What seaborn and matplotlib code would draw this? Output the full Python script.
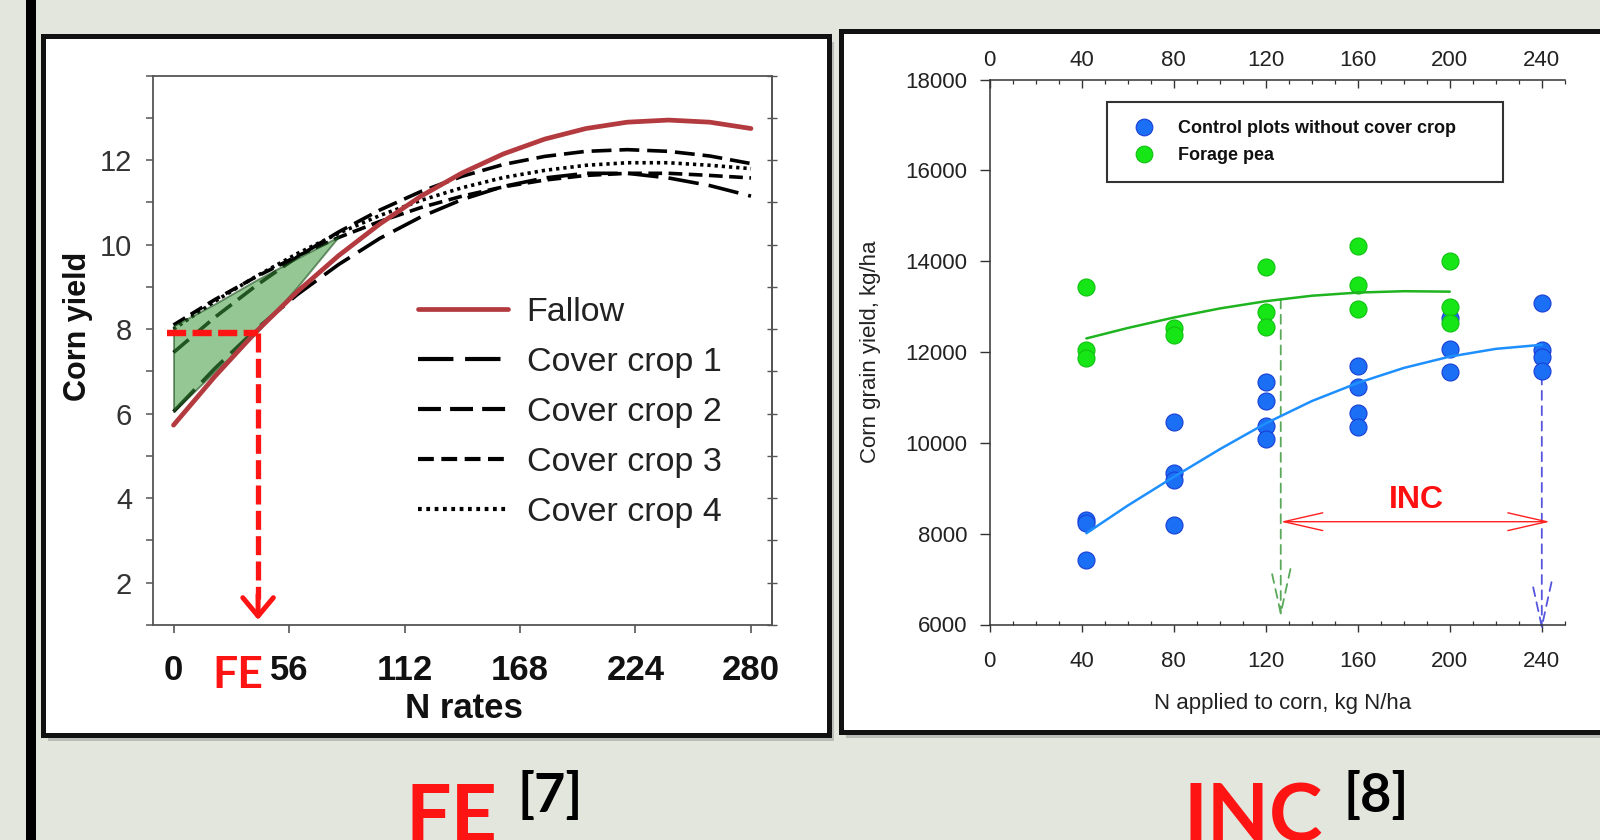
import numpy as np
import pandas as pd
import matplotlib
matplotlib.use("Agg")
import matplotlib.pyplot as plt
import seaborn as sns
from matplotlib.patches import Rectangle
from matplotlib.lines import Line2D
from matplotlib.ticker import MultipleLocator

# ---------------- data: left panel (FE) ----------------
n_rates = [0, 20, 40, 60, 80, 100, 120, 140, 160, 180, 200, 220, 240, 260, 280]
fallow = [5.73, 6.88, 7.94, 8.89, 9.74, 10.49, 11.15, 11.70, 12.15, 12.50, 12.75, 12.90, 12.95, 12.90, 12.75]
cover_crop_1 = [6.05, 7.07, 8.00, 8.82, 9.53, 10.15, 10.66, 11.07, 11.38, 11.58, 11.69, 11.69, 11.58, 11.40, 11.15]
cover_crop_2 = [7.45, 8.28, 9.03, 9.71, 10.30, 10.82, 11.26, 11.62, 11.90, 12.09, 12.21, 12.25, 12.21, 12.10, 11.92]
cover_crop_3 = [8.10, 8.70, 9.24, 9.73, 10.17, 10.55, 10.88, 11.15, 11.37, 11.53, 11.64, 11.69, 11.69, 11.64, 11.58]
cover_crop_4 = [8.00, 8.66, 9.25, 9.79, 10.27, 10.69, 11.05, 11.35, 11.59, 11.76, 11.88, 11.94, 11.94, 11.88, 11.80]
fe_fill_n = [0, 20, 40, 60, 80]
fe_fill_upper = [8.08, 8.60, 9.16, 9.68, 10.19]
fe_fill_lower = [6.05, 7.00, 7.90, 9.00, 10.19]
fe_n = 41
fe_yield = 7.9
fe_line_start = -3
fe_arrow_tip = 1.12
left_xticks = [0, 56, 112, 168, 224, 280]
left_yticks = [2, 4, 6, 8, 10, 12]
left_series = ["Fallow", "Cover crop 1", "Cover crop 2", "Cover crop 3", "Cover crop 4"]

# ---------------- data: right panel (INC) ----------------
control_n = [42, 42, 42, 80, 80, 80, 80, 120, 120, 120, 120, 160, 160, 160, 160, 200, 200, 200, 240, 240, 240, 240]
control_yield = [8300, 8230, 7420, 10450, 9330, 9180, 8190, 11340, 10930, 10380, 10080,
                 11690, 11240, 10650, 10340, 12740, 12060, 11550, 13080, 12050, 11900, 11590]
pea_n = [42, 42, 42, 80, 80, 120, 120, 120, 160, 160, 160, 200, 200, 200]
pea_yield = [13440, 12050, 11860, 12520, 12380, 13870, 12890, 12550, 14340, 13480, 12940, 14010, 12990, 12650]
control_fit_n = [42, 60, 80, 100, 120, 140, 160, 180, 200, 220, 240]
control_fit = [8010, 8620, 9250, 9860, 10430, 10920, 11320, 11650, 11900, 12070, 12160]
pea_fit_n = [42, 60, 80, 100, 120, 140, 160, 180, 200]
pea_fit = [12300, 12530, 12760, 12960, 13120, 13240, 13310, 13340, 13330]
inc_start = 126.5
inc_end = 243.5
inc_y = 8264
pea_opt_yield = 13160
control_opt_n = 240
control_opt_yield = 12160
green_tip = 6150
blue_tip = 5860
inc_label_pos = (185.6, 8742)
right_xticks = [0, 40, 80, 120, 160, 200, 240]
right_yticks = [6000, 8000, 10000, 12000, 14000, 16000, 18000]
right_series = ["Control plots without cover crop", "Forage pea"]

# ---------------- styling ----------------
sns.set_style("white")
plt.rcParams["font.family"] = ["Liberation Sans", "DejaVu Sans"]
NARROW = ["Liberation Sans Narrow", "Liberation Sans", "DejaVu Sans"]
BG = "#e3e6dd"
RED = "#ff1414"
FALLOW_RED = "#b33a3e"

W, H = 1600, 840
fig = plt.figure(figsize=(16, 8.4), dpi=100)
fig.patch.set_facecolor(BG)


def fx(px):
    return px / W


def fy(py):
    return 1 - py / H


# slide decorations: black side bar and framed white panels with shadow
fig.add_artist(Rectangle((fx(25.5), 0), 10.2 / W, 1, transform=fig.transFigure,
                         facecolor="black", edgecolor="none", zorder=-5))
for (x0, y0, x1, y1) in [(43, 36, 829, 735), (841, 31, 1660, 732)]:
    fig.add_artist(Rectangle((fx(x0 + 5), fy(y1 + 6)), (x1 - x0) / W, (y1 - y0) / H,
                             transform=fig.transFigure, facecolor="#8a8a8a", edgecolor="none",
                             alpha=0.45, zorder=-4))
    fig.add_artist(Rectangle((fx(x0), fy(y1)), (x1 - x0) / W, (y1 - y0) / H,
                             transform=fig.transFigure, facecolor="white", edgecolor="#111111",
                             linewidth=3.6, zorder=-3))

# ================= left panel =================
axL = fig.add_axes([fx(152.9), fy(625.0), 618.7 / W, 549.3 / H])
axL.set_facecolor("white")
dfL = pd.DataFrame({"n": n_rates, "Fallow": fallow, "Cover crop 1": cover_crop_1,
                    "Cover crop 2": cover_crop_2, "Cover crop 3": cover_crop_3,
                    "Cover crop 4": cover_crop_4})
styles = {
    "Cover crop 1": (0, (8.5, 2.8)),
    "Cover crop 2": (0, (5.5, 2.2)),
    "Cover crop 3": (0, (3.8, 1.8)),
    "Cover crop 4": (0, (0.9, 1.1)),
}
for name in ["Cover crop 1", "Cover crop 2", "Cover crop 3", "Cover crop 4"]:
    sns.lineplot(data=dfL, x="n", y=name, ax=axL, color="black", linewidth=2.6,
                 linestyle=styles[name], label=name, zorder=2)
axL.fill_between(fe_fill_n, fe_fill_lower, fe_fill_upper, facecolor="#3c9a3c",
                 edgecolor="#144414", linewidth=1.4, alpha=0.55, zorder=2.5)
sns.lineplot(data=dfL, x="n", y="Fallow", ax=axL, color=FALLOW_RED, linewidth=3.4,
             label="Fallow", zorder=3)

# FE marker lines
axL.plot([fe_line_start, fe_n], [fe_yield, fe_yield], color=RED, linewidth=4.6,
         linestyle=(0, (3.0, 1.0)), zorder=4, solid_capstyle="butt")
axL.plot([fe_n, fe_n], [fe_yield, fe_arrow_tip + 0.5], color=RED, linewidth=3.8,
         linestyle=(0, (3.6, 1.2)), zorder=4)
axL.annotate("", xy=(fe_n, fe_arrow_tip), xytext=(fe_n, fe_arrow_tip + 0.6),
             arrowprops=dict(arrowstyle="->,head_length=0.6,head_width=0.5", color=RED,
                             lw=3.6, shrinkA=0, shrinkB=0, mutation_scale=22),
             zorder=4, annotation_clip=False)

axL.set_xlim(-10, 290)
axL.set_ylim(1, 14)
axL.set_xticks(left_xticks)
axL.set_yticks(left_yticks)
axL.yaxis.set_minor_locator(MultipleLocator(1))
for s in axL.spines.values():
    s.set_color("#555555")
    s.set_linewidth(1.3)
axL.tick_params(axis="y", which="both", direction="out", left=True, length=5, width=1.1,
                color="#555555", pad=10)
axL.tick_params(axis="x", which="major", direction="out", bottom=True, length=6, width=1.2,
                color="#555555", pad=15)
for lab in axL.get_xticklabels():
    lab.set_fontfamily(NARROW)
    lab.set_fontsize(25)
    lab.set_fontweight("bold")
    lab.set_color("#111111")
for lab in axL.get_yticklabels():
    lab.set_fontfamily(NARROW)
    lab.set_fontsize(21)
    lab.set_color("#333333")
secR = axL.secondary_yaxis("right")
secR.set_yticks(list(range(1, 15)))
secR.tick_params(direction="inout", length=7, width=1.0, color="#555555", labelright=False)
secR.spines["right"].set_color("#555555")
secR.spines["right"].set_linewidth(1.3)

axL.set_xlabel("N rates", fontsize=25, fontweight="bold", family=NARROW, color="#111111")
axL.set_ylabel("Corn yield", fontsize=22, fontweight="bold", color="#111111")
axL.xaxis.set_label_coords(0.503, -0.122)
axL.yaxis.set_label_coords(-0.097, 0.5435)

handles, labels = axL.get_legend_handles_labels()
order = [labels.index(n) for n in left_series]
legL = axL.legend([handles[i] for i in order], [labels[i] for i in order],
                  loc="upper left", bbox_to_anchor=(0.428, 0.598), frameon=False,
                  prop={"family": NARROW, "size": 24.5}, handlelength=2.65,
                  labelspacing=0.56, handletextpad=0.55, borderpad=0, borderaxespad=0)
for t in legL.get_texts():
    t.set_color("#222222")
for ln in legL.get_lines():
    ln.set_linewidth(3.4 if ln.get_color() == FALLOW_RED else 3.0)

fig.text(fx(238), fy(675), "FE", color=RED, fontsize=32, fontweight="bold",
         family=["Lato", "DejaVu Sans"], ha="center", va="center")

# ================= right panel =================
axR = fig.add_axes([fx(989.8), fy(624.5), 575.0 / W, 544.9 / H])
axR.set_facecolor("white")
sns.scatterplot(x=control_n, y=control_yield, ax=axR, s=150, color="#1a6ff5",
                edgecolor="#1a3fd6", linewidth=0.8, legend=False, zorder=3)
sns.scatterplot(x=pea_n, y=pea_yield, ax=axR, s=150, color="#16e616",
                edgecolor="#12c012", linewidth=0.8, legend=False, zorder=3)
sns.lineplot(x=control_fit_n, y=control_fit, ax=axR, color="#1e8fff", linewidth=1.8, zorder=4)
sns.lineplot(x=pea_fit_n, y=pea_fit, ax=axR, color="#1fb41f", linewidth=1.8, zorder=4)

# optimum-rate drop lines with open arrow heads
axR.annotate("", xy=(inc_start, green_tip), xytext=(inc_start, pea_opt_yield),
             arrowprops=dict(arrowstyle="->,head_length=1.6,head_width=0.35", color="#5aa85a",
                             lw=1.3, linestyle=(0, (5, 3.5)), shrinkA=0, shrinkB=0,
                             mutation_scale=20), annotation_clip=False, zorder=2)
axR.annotate("", xy=(control_opt_n, blue_tip), xytext=(control_opt_n, control_opt_yield),
             arrowprops=dict(arrowstyle="->,head_length=1.6,head_width=0.35", color="#5555dd",
                             lw=1.3, linestyle=(0, (5, 3.5)), shrinkA=0, shrinkB=0,
                             mutation_scale=20), annotation_clip=False, zorder=2)
axR.annotate("", xy=(inc_end, inc_y), xytext=(inc_start, inc_y),
             arrowprops=dict(arrowstyle="<->,head_length=1.4,head_width=0.32", color="#ff2020",
                             lw=1.0, shrinkA=0, shrinkB=0, mutation_scale=20),
             annotation_clip=False, zorder=2)
axR.text(inc_label_pos[0], inc_label_pos[1], "INC", color="#ff1010", fontsize=23,
         fontweight="bold", ha="center", va="center")

axR.set_xlim(0, 250)
axR.set_ylim(6000, 18000)
axR.set_xticks(right_xticks)
axR.set_yticks(right_yticks)
axR.xaxis.set_minor_locator(MultipleLocator(10))
axR.spines["right"].set_visible(False)
axR.spines["top"].set_visible(False)
for k in ["left", "bottom"]:
    axR.spines[k].set_color("#333333")
    axR.spines[k].set_linewidth(1.1)
axR.tick_params(axis="y", which="major", direction="out", left=True, length=7.2, width=1.0,
                color="#333333", labelsize=16, labelcolor="#222222", pad=9)
axR.tick_params(axis="x", which="major", direction="out", bottom=True, length=5, width=1.0,
                color="#333333", labelsize=16, labelcolor="#222222", pad=14)
axR.tick_params(axis="x", which="minor", direction="in", bottom=True, length=3, width=0.9,
                color="#333333")
secT = axR.secondary_xaxis("top")
secT.set_xticks(right_xticks)
secT.xaxis.set_minor_locator(MultipleLocator(10))
secT.tick_params(axis="x", which="major", direction="in", length=5.5, width=1.0,
                 color="#333333", labelsize=16, labelcolor="#222222", pad=6)
secT.tick_params(axis="x", which="minor", direction="in", length=3, width=0.9, color="#333333")
secT.spines["top"].set_color("#333333")
secT.spines["top"].set_linewidth(1.1)

axR.set_ylabel("Corn grain yield, kg/ha", fontsize=16, color="#222222")
axR.set_xlabel("N applied to corn, kg N/ha", fontsize=16, color="#222222")
axR.yaxis.set_label_coords(-0.19, 0.5)
axR.xaxis.set_label_coords(0.51, -0.125)

legend_handles = [
    Line2D([], [], linestyle="none", marker="o", markersize=12, markerfacecolor="#1a6ff5",
           markeredgecolor="#1a3fd6", markeredgewidth=0.8),
    Line2D([], [], linestyle="none", marker="o", markersize=12, markerfacecolor="#16e616",
           markeredgecolor="#12c012", markeredgewidth=0.8),
]
x0a, x1a = 0.2038, 0.8925
y0a, y1a = 0.814, 0.959
legR = axR.legend(legend_handles, right_series, loc="upper left",
                  bbox_to_anchor=(x0a, y0a, x1a - x0a, y1a - y0a), mode="expand",
                  prop={"weight": "bold", "size": 13}, frameon=True, fancybox=False,
                  edgecolor="black", borderpad=1.0, labelspacing=0.55, handlelength=2.1,
                  handletextpad=0.85, borderaxespad=0)
legR.get_frame().set_linewidth(1.5)
for t in legR.get_texts():
    t.set_color("#111111")

# ================= slide captions =================
fig.text(fx(406), fy(842), "FE", color=RED, fontsize=58, fontweight="bold",
         family=["Lato", "DejaVu Sans"], ha="left", va="baseline")
fig.text(fx(517), fy(812), "[7]", color="black", fontsize=39, fontweight="bold",
         family=["Lato", "DejaVu Sans"], ha="left", va="baseline")
fig.text(fx(1184), fy(842), "INC", color=RED, fontsize=58, fontweight="bold",
         family=["Lato", "DejaVu Sans"], ha="left", va="baseline")
fig.text(fx(1344), fy(812), "[8]", color="black", fontsize=39, fontweight="bold",
         family=["Lato", "DejaVu Sans"], ha="left", va="baseline")

fig.savefig("out.png", dpi=100, facecolor=fig.get_facecolor())
